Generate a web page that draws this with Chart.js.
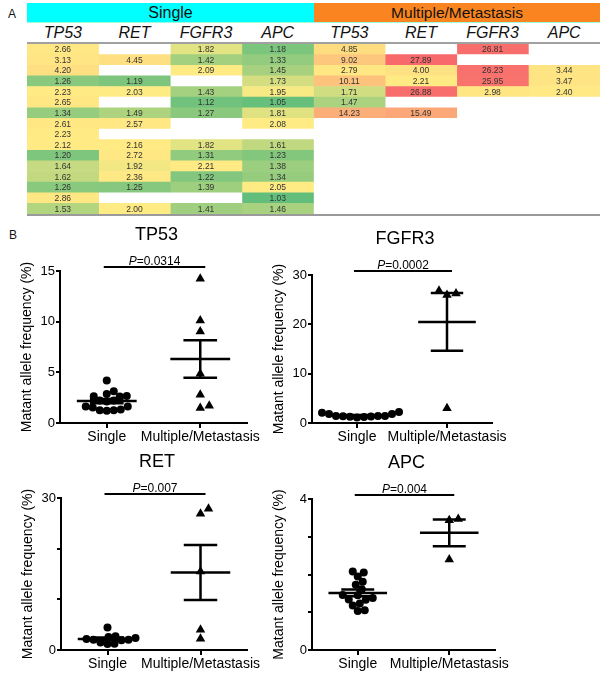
<!DOCTYPE html>
<html>
<head>
<meta charset="utf-8">
<script src="https://cdn.jsdelivr.net/npm/chart.js@4.4.1/dist/chart.umd.min.js"></script>
<style>
    body { margin: 0; width: 603px; height: 677px; position: relative; background: #fff; overflow: hidden;
           font-family: 'Liberation Sans', Arial, sans-serif; color: #111; }
    .abs { position: absolute; }
    .grp { top: 3px; height: 19px; line-height: 20px; text-align: center; }
    .gene { top: 22px; height: 21px; line-height: 22px; text-align: center; font-style: italic; font-size: 16px; }
    canvas { position: absolute; }
</style>
</head>
<body>
<div class="abs" style="left:8px;top:7px;font-size:12px">A</div>
<div class="abs" style="left:9px;top:228px;font-size:12px">B</div>

<div class="abs grp" style="left:27px;width:287px;background:#00ffff;font-size:16px">Single</div>
<div class="abs grp" style="left:314px;width:286px;background:#fa8420;font-size:15.5px">Multiple/Metastasis</div>
<div id="geneRow"></div>
<div class="abs" style="left:27px;top:22px;width:573px;height:1px;background:#9fd"></div>
<div class="abs" style="left:27px;top:42px;width:573px;height:2px;background:#a0a0a0"></div>
<div class="abs" style="left:27px;top:214px;width:573px;height:2px;background:#9a9a9a"></div>

<canvas id="heat" width="573" height="170" style="left:27px;top:44px"></canvas>
<canvas id="tp53" width="300" height="223" style="left:0px;top:225px"></canvas>
<canvas id="fgfr3" width="293" height="219" style="left:252px;top:229px"></canvas>
<canvas id="ret" width="299" height="223" style="left:1px;top:452px"></canvas>
<canvas id="apc" width="296" height="222" style="left:252px;top:453px"></canvas>

<script>
const FONT = "'Liberation Sans', Arial, sans-serif";
Chart.defaults.font.family = FONT;

const genes = ['TP53', 'RET', 'FGFR3', 'APC'];
const groups = ['Single', 'Multiple/Metastasis'];

// mutant allele frequency (%), null = no mutation detected
const singleTP53 = [2.66, 3.13, 4.20, 1.26, 2.23, 2.65, 1.34, 2.61, 2.23, 2.12, 1.20, 1.64, 1.62, 1.26, 2.86, 1.53];
const singleRET = [null, 4.45, null, 1.19, 2.03, null, 1.49, 2.57, null, 2.16, 2.72, 1.92, 2.36, 1.25, null, 2.00];
const singleFGFR3 = [1.82, 1.42, 2.09, null, 1.43, 1.12, 1.27, null, null, 1.82, 1.31, 2.21, 1.22, 1.39, null, 1.41];
const singleAPC = [1.18, 1.33, 1.45, 1.73, 1.95, 1.05, 1.81, 2.08, null, 1.61, 1.23, 1.38, 1.34, 2.05, 1.03, 1.46];
const multiTP53 = [4.85, 9.02, 2.79, 10.11, 1.71, 1.47, 14.23];
const multiRET = [null, 27.89, 4.00, 2.21, 26.88, null, 15.49];
const multiFGFR3 = [26.81, null, 26.23, 25.95, 2.98];
const multiAPC = [null, null, 3.44, 3.47, 2.40];

// per gene, same order as genes
const pValues = ['0.0314', '0.007', '0.0002', '0.004'];
const yMax = [15, 30, 30, 4];
const yStep = [5, 10, 10, 1];
const yLabels = [[0, 5, 10, 15], [0, 30], [0, 10, 20, 30], [0, 4]];

// ---------- A: heat map table ----------
const columns = [singleTP53, singleRET, singleFGFR3, singleAPC, multiTP53, multiRET, multiFGFR3, multiAPC];
const rows = singleTP53.map((v, i) => i + 1);

const geneRow = document.getElementById('geneRow');
columns.forEach((col, i) => {
    const d = document.createElement('div');
    d.className = 'abs gene';
    d.style.left = (27 + i * 573 / 8) + 'px';
    d.style.width = (573 / 8) + 'px';
    d.textContent = genes[i % 4];
    geneRow.appendChild(d);
});

const allVals = columns.flat().filter(v => v != null).sort((a, b) => a - b);
const lo = allVals[0], hi = allVals[allVals.length - 1];
const rank = 0.5 * (allVals.length - 1);
const mid = allVals[Math.floor(rank)] + (allVals[Math.ceil(rank)] - allVals[Math.floor(rank)]) * (rank - Math.floor(rank));

function mix(c1, c2, t) {
    return 'rgb(' + c1.map((c, k) => Math.round(c + (c2[k] - c) * t)).join(',') + ')';
}
function heatColor(v) {
    if (v == null) return '#ffffff';
    const green = [99, 190, 123], yellow = [255, 235, 132], red = [248, 105, 107];
    if (v <= mid) return mix(green, yellow, (v - lo) / (mid - lo));
    return mix(yellow, red, (v - mid) / (hi - mid));
}

const cellText = {
    id: 'cellText',
    afterDatasetsDraw(chart) {
        const ctx = chart.ctx;
        ctx.save();
        ctx.font = '8.5px ' + FONT;
        ctx.fillStyle = '#333';
        ctx.textAlign = 'center';
        ctx.textBaseline = 'middle';
        columns.forEach((col, i) => {
            chart.getDatasetMeta(i).data.forEach((bar, j) => {
                const v = col[j];
                if (v == null) return;
                ctx.fillText(v.toFixed(2), (bar.x + bar.base) / 2, bar.y + 0.5);
            });
        });
        ctx.restore();
    }
};

new Chart(document.getElementById('heat'), {
    type: 'bar',
    data: {
        labels: rows,
        datasets: columns.map(col => ({
            data: rows.map(() => 1),
            backgroundColor: c => heatColor(col[c.dataIndex]),
            borderWidth: 0,
            barPercentage: 1,
            categoryPercentage: 1
        }))
    },
    options: {
        indexAxis: 'y',
        responsive: false,
        animation: false,
        events: [],
        layout: { padding: 0 },
        plugins: { legend: { display: false }, tooltip: { enabled: false } },
        scales: {
            x: { stacked: true, min: 0, max: 8, display: false },
            y: { stacked: true, display: false }
        }
    },
    plugins: [cellText]
});

// ---------- B: dot plots ----------
const sigPlugin = {
    id: 'sig',
    afterDraw(chart, args, opts) {
        const { ctx, chartArea, scales } = chart;
        const x1 = scales.x.getPixelForValue(1) - 3;
        const x2 = scales.x.getPixelForValue(2) + 5;
        const ly = chartArea.top - 4;
        ctx.save();
        ctx.strokeStyle = '#000';
        ctx.lineWidth = 2;
        ctx.beginPath();
        ctx.moveTo(x1, ly);
        ctx.lineTo(x2, ly);
        ctx.stroke();

        ctx.fillStyle = '#000';
        ctx.textBaseline = 'alphabetic';
        ctx.textAlign = 'left';
        ctx.font = 'italic 12px ' + FONT;
        const w1 = ctx.measureText('P').width;
        ctx.font = '12px ' + FONT;
        const w2 = ctx.measureText('=' + opts.p).width;
        const sx = (x1 + x2) / 2 - (w1 + w2) / 2;
        ctx.font = 'italic 12px ' + FONT;
        ctx.fillText('P', sx, ly - 2.5);
        ctx.font = '12px ' + FONT;
        ctx.fillText('=' + opts.p, sx + w1, ly - 2.5);

        ctx.font = '18px ' + FONT;
        ctx.textAlign = 'center';
        ctx.textBaseline = 'middle';
        ctx.fillText(opts.title, (chartArea.left + chartArea.right) / 2 + 3, chartArea.top - 36);
        ctx.restore();
    }
};

function meanSem(vals) {
    const n = vals.length;
    const mean = vals.reduce((a, b) => a + b, 0) / n;
    const sd = Math.sqrt(vals.reduce((a, b) => a + (b - mean) * (b - mean), 0) / (n - 1));
    return [mean, sd / Math.sqrt(n)];
}

function errBar(c, vals) {
    const [mean, sem] = meanSem(vals);
    const w = 0.32, e = 0.18;
    return [
        { x: c - w, y: mean }, { x: c + w, y: mean }, { x: c, y: null },
        { x: c - e, y: mean + sem }, { x: c + e, y: mean + sem }, { x: c, y: null },
        { x: c - e, y: mean - sem }, { x: c + e, y: mean - sem }, { x: c, y: null },
        { x: c, y: mean + sem }, { x: c, y: mean - sem }
    ];
}

// beeswarm: push points sideways until they no longer overlap
function spread(vals, c, pxY, pxX, diam) {
    const order = vals.map((v, i) => i).sort((a, b) => vals[a] - vals[b]);
    const placed = [];
    const out = new Array(vals.length);
    order.forEach(i => {
        const y = vals[i] * pxY;
        for (let k = 0; k < 400; k++) {
            const cand = k === 0 ? 0 : (k % 2 ? 1 : -1) * Math.ceil(k / 2);
            if (placed.every(p => Math.hypot(p.x - cand, p.y - y) >= diam)) {
                placed.push({ x: cand, y: y });
                out[i] = { x: c + cand / pxX, y: vals[i] };
                break;
            }
        }
    });
    return out;
}

function dotPlot(id, g, single, multi) {
    const s = single.filter(v => v != null);
    const m = multi.filter(v => v != null);
    const axisGrid = { display: true, drawOnChartArea: false, drawTicks: true, color: '#000', lineWidth: 2 };
    const chart = new Chart(document.getElementById(id), {
        type: 'scatter',
        data: {
            datasets: [
                { data: s.map(v => ({ x: 1, y: v })), pointStyle: 'circle', pointRadius: 4,
                  backgroundColor: '#000', borderColor: '#000', borderWidth: 0 },
                { data: m.map(v => ({ x: 2, y: v })), pointStyle: 'triangle', pointRadius: 5.5,
                  backgroundColor: '#000', borderColor: '#000', borderWidth: 0 },
                { data: errBar(1, s), showLine: true, pointRadius: 0, borderColor: '#000', borderWidth: 2.5 },
                { data: errBar(2, m), showLine: true, pointRadius: 0, borderColor: '#000', borderWidth: 2.5 }
            ]
        },
        options: {
            responsive: false,
            animation: false,
            events: [],
            layout: { padding: { top: 46, right: 53, left: 0, bottom: 0 } },
            plugins: {
                legend: { display: false },
                tooltip: { enabled: false },
                sig: { title: genes[g], p: pValues[g] }
            },
            scales: {
                x: {
                    type: 'linear', min: 0.5, max: 2.5,
                    afterBuildTicks: sc => { sc.ticks = [{ value: 1 }, { value: 2 }]; },
                    afterFit: sc => { sc.height = 25; },
                    grid: { ...axisGrid, tickLength: 5 },
                    border: { display: true, color: '#000', width: 2 },
                    ticks: { color: '#000', font: { size: 14 }, padding: 1, autoSkip: false, maxRotation: 0,
                             callback: v => groups[v - 1] }
                },
                y: {
                    min: 0, max: yMax[g],
                    afterFit: sc => { sc.width = 60; },
                    grid: { ...axisGrid, tickLength: 4 },
                    border: { display: true, color: '#000', width: 2 },
                    ticks: { stepSize: yStep[g], color: '#000', font: { size: 13 }, padding: 1,
                             callback: v => yLabels[g].includes(v) ? v : '' },
                    title: { display: true, text: 'Matant allele frequency (%)', color: '#000',
                             font: { size: 14 }, padding: { top: 19, bottom: 0 } }
                }
            }
        },
        plugins: [sigPlugin]
    });
    const a = chart.chartArea;
    const pxY = (a.bottom - a.top) / yMax[g];
    const pxX = (a.right - a.left) / 2;
    chart.data.datasets[0].data = spread(s, 1, pxY, pxX, 7);
    chart.data.datasets[1].data = spread(m, 2, pxY, pxX, 9);
    chart.update();
}

dotPlot('tp53', 0, singleTP53, multiTP53);
dotPlot('ret', 1, singleRET, multiRET);
dotPlot('fgfr3', 2, singleFGFR3, multiFGFR3);
dotPlot('apc', 3, singleAPC, multiAPC);
</script>
</body>
</html>
